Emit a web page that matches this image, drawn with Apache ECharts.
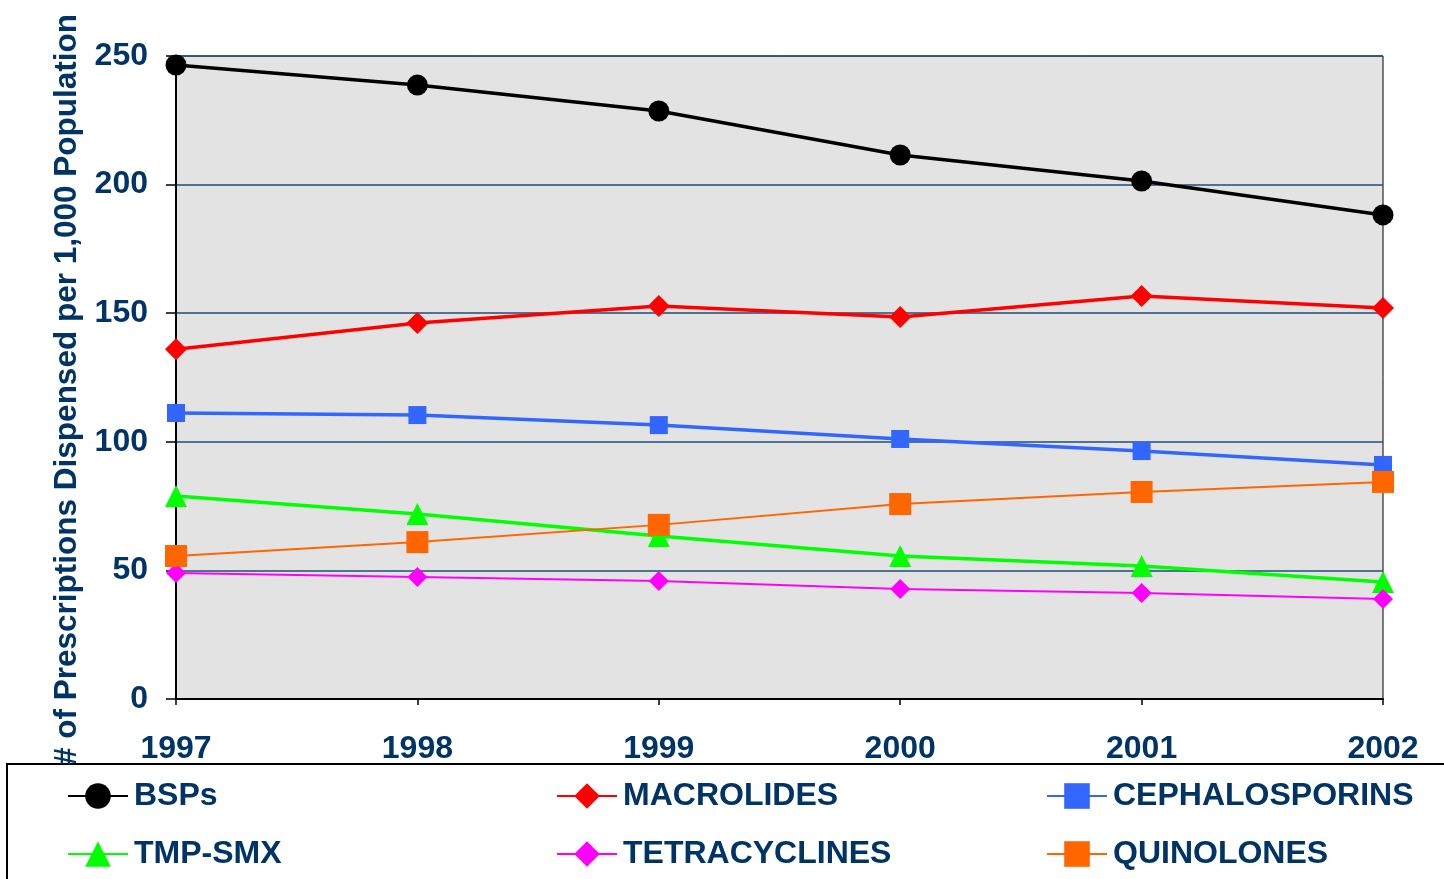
<!DOCTYPE html>
<html><head><meta charset="utf-8">
<script src="https://cdn.jsdelivr.net/npm/echarts@6/dist/echarts.min.js"></script>
<style>html,body{margin:0;padding:0;background:#fff}#c{width:1444px;height:879px}</style>
</head><body><div id="c"></div>
<script>
const years = ['1997','1998','1999','2000','2001','2002'];
const bsps = [246.5, 238.7, 228.6, 211.5, 201.4, 188.2];
const macrolides = [136, 146.2, 152.8, 148.5, 156.7, 152];
const cephalosporins = [111.2, 110.4, 106.5, 101.1, 96.4, 91];
const tmpSmx = [78.9, 71.9, 63.4, 55.6, 51.7, 45.5];
const tetracyclines = [49, 47.4, 45.9, 42.8, 41.2, 38.9];
const quinolones = [55.6, 61, 67.7, 75.8, 80.5, 84.4];
const yTicks = [0, 50, 100, 150, 200, 250];

const navy = '#003366';
const font = 'Liberation Sans, Arial, sans-serif';
const seriesDefs = [
  {name:'BSPs', data:bsps, color:'#000000', symbol:'circle', size:21, width:3.5},
  {name:'MACROLIDES', data:macrolides, color:'#ff0000', symbol:'diamond', size:22, width:3.5},
  {name:'CEPHALOSPORINS', data:cephalosporins, color:'#3366ff', symbol:'rect', size:18, width:3.5},
  {name:'TMP-SMX', data:tmpSmx, color:'#00ff00', symbol:'triangle', size:22, width:3.5},
  {name:'TETRACYCLINES', data:tetracyclines, color:'#ff00ff', symbol:'diamond', size:20, width:2},
  {name:'QUINOLONES', data:quinolones, color:'#ff6600', symbol:'rect', size:22, width:2}
];
const legendPos = [[67,780],[556,780],[1046,780],[67,838],[556,838],[1046,838]];

const chart = echarts.init(document.getElementById('c'));
chart.setOption({
  animation:false,
  backgroundColor:'#fff',
  grid:{left:176,right:61,top:56,bottom:180,containLabel:false,outerBoundsMode:'none',
    show:true,backgroundColor:'#e3e3e3',borderColor:'#000',borderWidth:1},
  xAxis:{type:'category',data:years,boundaryGap:false,
    axisLine:{lineStyle:{color:'#000',width:2}},
    axisTick:{show:true,length:6,lineStyle:{color:'#000',width:1.5}},
    axisLabel:{color:navy,fontSize:32,fontWeight:'bold',fontFamily:font,margin:34},
    splitLine:{show:false}},
  yAxis:{type:'value',min:0,max:250,interval:50,
    name:'# of Prescriptions Dispensed per 1,000 Population',nameLocation:'middle',nameGap:91,
    nameTextStyle:{color:navy,fontSize:31.5,fontWeight:'bold',fontFamily:font,padding:[0,24,0,0]},
    axisLine:{show:true,lineStyle:{color:'#000',width:2}},
    axisTick:{show:true,length:10,lineStyle:{color:'#000',width:1.5}},
    axisLabel:{color:navy,fontSize:32,fontWeight:'bold',fontFamily:font,margin:28,
      formatter:v=>yTicks.includes(v)?String(v):''},
    splitLine:{show:true,lineStyle:{color:'#1f4e79',width:1.5}}},
  legend: seriesDefs.map((s,i)=>({
    data:[s.name],left:legendPos[i][0],top:legendPos[i][1],itemWidth:60,itemHeight:32,itemGap:0,padding:0,
    textStyle:{color:navy,fontSize:32,fontWeight:'bold',fontFamily:font,padding:[0,0,0,1]}
  })),
  graphic:[{type:'rect',shape:{x:7,y:764,width:1460,height:140},style:{fill:'none',stroke:'#000',lineWidth:2},z:-1}],
  series: seriesDefs.map(s=>({
    name:s.name,type:'line',data:s.data,symbol:s.symbol,symbolSize:s.size,
    lineStyle:{color:s.color,width:s.width},itemStyle:{color:s.color},color:s.color,
    clip:false
  }))
});
</script></body></html>
